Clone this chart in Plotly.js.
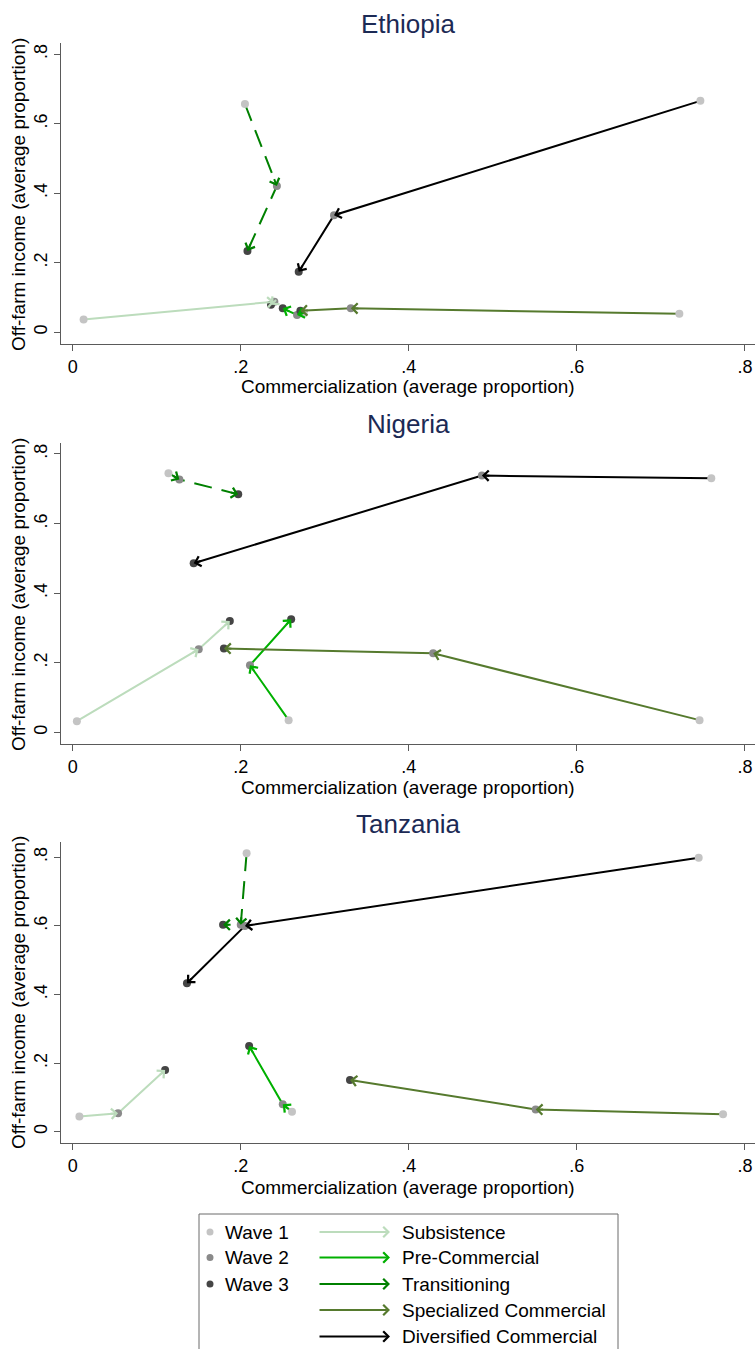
<!DOCTYPE html>
<html>
<head>
<meta charset="utf-8">
<script src="https://cdn.plot.ly/plotly-3.0.1.min.js"></script>
<style>html,body{margin:0;padding:0;background:#fff;}</style>
</head>
<body>
<div id="chart" style="width:755px;height:1349px;"></div>
<script>
// ---------------- DATA ----------------
const countries = ["Ethiopia", "Nigeria", "Tanzania"];
const categories = ["Subsistence", "Pre-Commercial", "Transitioning", "Specialized Commercial", "Diversified Commercial"];
const waveLabels = ["Wave 1", "Wave 2", "Wave 3"];
const xTickVals = [0, 0.2, 0.4, 0.6, 0.8];
const xTickText = ["0", ".2", ".4", ".6", ".8"];
const yTickVals = [0, 0.2, 0.4, 0.6, 0.8];
const yTickText = ["0", ".2", ".4", ".6", ".8"];
const xTitle = "Commercialization (average proportion)";
const yTitle = "Off-farm income (average proportion)";

// one triple (wave 1, wave 2, wave 3) per category, in the order of `categories`
const ethiopiaComm = [[0.013, 0.240, 0.236], [0.275, 0.267, 0.250], [0.205, 0.243, 0.208], [0.722, 0.331, 0.271], [0.747, 0.311, 0.269]];
const ethiopiaOff  = [[0.037, 0.088, 0.079], [0.056, 0.050, 0.069], [0.657, 0.421, 0.234], [0.053, 0.069, 0.062], [0.666, 0.337, 0.174]];
const nigeriaComm  = [[0.005, 0.150, 0.187], [0.257, 0.211, 0.260], [0.114, 0.127, 0.197], [0.746, 0.429, 0.180], [0.760, 0.487, 0.144]];
const nigeriaOff   = [[0.032, 0.239, 0.320], [0.035, 0.193, 0.325], [0.745, 0.727, 0.684], [0.035, 0.227, 0.241], [0.730, 0.738, 0.486]];
const tanzaniaComm = [[0.008, 0.054, 0.110], [0.261, 0.250, 0.210], [0.207, 0.200, 0.179], [0.774, 0.551, 0.330], [0.745, 0.205, 0.136]];
const tanzaniaOff  = [[0.044, 0.054, 0.180], [0.058, 0.080, 0.250], [0.812, 0.603, 0.603], [0.051, 0.065, 0.151], [0.799, 0.600, 0.433]];

// ---------------- STYLE / LAYOUT ----------------
const commData = [ethiopiaComm, nigeriaComm, tanzaniaComm];
const offData = [ethiopiaOff, nigeriaOff, tanzaniaOff];
const catColors = ["#bcdcbc", "#00b000", "#008000", "#567a2e", "#000000"];
const catDash = ["solid", "solid", "18px,10px", "solid", "solid"];
const waveColors = ["#c4c4c4", "#8a8a8a", "#454545"];
const FONT = "Liberation Sans, Arial, sans-serif";
const W = 755, H = 1349;
const plotLeft = 61, plotRight = 755;
const panelTops = [43, 443, 842];
const panelBottoms = [344, 744, 1143.3];
const xRange = [-0.0139, 0.812];
const yRanges = [[-0.0337, 0.8325], [-0.0336, 0.8316], [-0.0338, 0.8446]];
const titleY = [24, 424, 824];
const xTitleY = [387, 787, 1187];
const yTitleY = [195, 595, 993];
const titleColor = "#1c2a55";
const axisColor = "#5a5a5a";

const traces = [];
const annotations = [];
const shapes = [];
const layout = {
  width: W, height: H, autosize: false,
  margin: {l: 0, r: 0, t: 0, b: 0},
  paper_bgcolor: "#ffffff", plot_bgcolor: "#ffffff",
  showlegend: false,
  font: {family: FONT, size: 19, color: "#000"},
  annotations: annotations, shapes: shapes
};

const px = v => v / W;
const py = v => 1 - v / H;

countries.forEach((country, k) => {
  const s = k === 0 ? "" : String(k + 1);
  const xa = "xaxis" + s, ya = "yaxis" + s;
  layout[xa] = {
    domain: [px(plotLeft), px(plotRight)], range: xRange, anchor: "y" + s,
    tickvals: xTickVals, ticktext: xTickText, ticks: "outside", ticklen: 6, tickwidth: 1,
    tickcolor: axisColor, showline: true, linecolor: axisColor, linewidth: 1,
    showgrid: false, zeroline: false, automargin: false,
    tickfont: {family: FONT, size: 18, color: "#000"}, fixedrange: true
  };
  layout[ya] = {
    domain: [py(panelBottoms[k]), py(panelTops[k])], range: yRanges[k], anchor: "x" + s,
    tickvals: yTickVals, ticktext: yTickText, ticks: "outside", ticklen: 6, tickwidth: 1,
    tickcolor: axisColor, showline: true, linecolor: axisColor, linewidth: 1,
    showgrid: false, zeroline: false, automargin: false, tickangle: -90,
    tickfont: {family: FONT, size: 18, color: "#000"}, fixedrange: true
  };

  const comm = commData[k], off = offData[k];
  // trajectory lines
  categories.forEach((cat, c) => {
    traces.push({
      type: "scatter", mode: "lines", x: comm[c], y: off[c],
      xaxis: "x" + s, yaxis: "y" + s, name: cat, hoverinfo: "skip",
      line: {color: catColors[c], width: 2, dash: catDash[c]}
    });
  });
  // wave points
  waveLabels.forEach((wl, w) => {
    traces.push({
      type: "scatter", mode: "markers",
      x: comm.map(t => t[w]), y: off.map(t => t[w]),
      xaxis: "x" + s, yaxis: "y" + s, name: wl, hoverinfo: "skip",
      marker: {color: waveColors[w], size: 8, line: {width: 0}}
    });
  });
  // arrowheads (direction from the data, through the axis scales)
  const sx = (plotRight - plotLeft) / (xRange[1] - xRange[0]);
  const sy = (panelBottoms[k] - panelTops[k]) / (yRanges[k][1] - yRanges[k][0]);
  categories.forEach((cat, c) => {
    for (let i = 1; i < 3; i++) {
      const dx = (comm[c][i - 1] - comm[c][i]) * sx;
      const dy = -(off[c][i - 1] - off[c][i]) * sy;
      const len = Math.sqrt(dx * dx + dy * dy) || 1;
      const L = 9;
      annotations.push({
        x: comm[c][i], y: off[c][i], xref: "x" + s, yref: "y" + s,
        ax: dx / len * L, ay: dy / len * L, axref: "pixel", ayref: "pixel",
        text: "", showarrow: true, arrowhead: 4, arrowsize: 1, arrowwidth: 2,
        arrowcolor: catColors[c], standoff: 0, startstandoff: 0
      });
    }
  });
  // titles
  annotations.push({
    text: country, xref: "paper", yref: "paper", x: px((plotLeft + plotRight) / 2), y: py(titleY[k]),
    xanchor: "center", yanchor: "middle", showarrow: false,
    font: {family: FONT, size: 26, color: titleColor}
  });
  annotations.push({
    text: xTitle, xref: "paper", yref: "paper", x: px((plotLeft + plotRight) / 2), y: py(xTitleY[k]),
    xanchor: "center", yanchor: "middle", showarrow: false,
    font: {family: FONT, size: 19, color: "#000"}
  });
  annotations.push({
    text: yTitle, xref: "paper", yref: "paper", x: px(18), y: py(yTitleY[k]),
    xanchor: "center", yanchor: "middle", showarrow: false, textangle: -90,
    font: {family: FONT, size: 19, color: "#000"}
  });
});

// ---------------- LEGEND ----------------
const legLeft = 199, legRight = 618, legTop = 1214;
const rowY = [1232, 1257.5, 1284, 1310, 1336.5];
shapes.push({
  type: "rect", xref: "paper", yref: "paper",
  x0: px(legLeft), x1: px(legRight), y0: py(legTop), y1: py(H + 5),
  line: {color: "#6a6a6a", width: 1}, fillcolor: "rgba(0,0,0,0)"
});
waveLabels.forEach((wl, w) => {
  const r = 3.5;
  shapes.push({
    type: "circle", xref: "paper", yref: "paper",
    x0: px(210 - r), x1: px(210 + r), y0: py(rowY[w] + r), y1: py(rowY[w] - r),
    line: {width: 0}, fillcolor: waveColors[w]
  });
  annotations.push({
    text: wl, xref: "paper", yref: "paper", x: px(223), y: py(rowY[w]),
    xanchor: "left", yanchor: "middle", showarrow: false,
    font: {family: FONT, size: 19, color: "#000"}
  });
});
categories.forEach((cat, c) => {
  annotations.push({
    x: px(390), y: py(rowY[c]), xref: "paper", yref: "paper",
    ax: -72, ay: 0, axref: "pixel", ayref: "pixel",
    text: "", showarrow: true, arrowhead: 4, arrowsize: 1, arrowwidth: 2,
    arrowcolor: catColors[c], standoff: 0, startstandoff: 0
  });
  annotations.push({
    text: cat, xref: "paper", yref: "paper", x: px(400), y: py(rowY[c]),
    xanchor: "left", yanchor: "middle", showarrow: false,
    font: {family: FONT, size: 19, color: "#000"}
  });
});

Plotly.newPlot("chart", traces, layout, {staticPlot: true, displayModeBar: false});
</script>
</body>
</html>
